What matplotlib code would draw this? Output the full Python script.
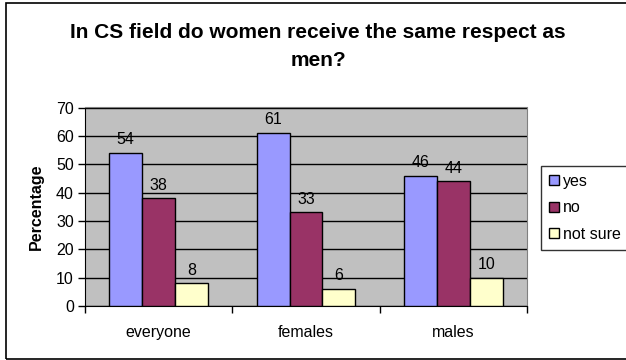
"""Grouped bar chart: respect for women in the CS field, by respondent group."""

import matplotlib.pyplot as plt
import numpy as np
from matplotlib.patches import Rectangle

plt.rcParams["font.family"] = ["Liberation Sans", "DejaVu Sans"]

groups = ["everyone", "females", "males"]
series = ["yes", "no", "not sure"]
yes = [54, 61, 46]
no = [38, 33, 44]
not_sure = [8, 6, 10]
colors = ["#9999FF", "#993366", "#FFFFCC"]

W, H = 626, 360
fig = plt.figure(figsize=(W / 100, H / 100), dpi=100)
ax = fig.add_axes([85 / W, 1 - 306 / H, (527 - 85) / W, (306 - 107.5) / H])
ax.set_facecolor("#C0C0C0")

x = np.arange(len(groups))
bw = 0.223
for i, (name, vals, c) in enumerate(zip(series, [yes, no, not_sure], colors)):
    pos = x + (i - 1) * bw
    bars = ax.bar(pos, vals, bw, color=c, edgecolor="black", linewidth=1.0,
                  label=name, zorder=3)
    for b, v in zip(bars, vals):
        ax.annotate(str(v), (b.get_x() + b.get_width() / 2, v),
                    xytext=(0, 4), textcoords="offset points",
                    ha="center", va="bottom", fontsize=11.5)

ax.set_xlim(-0.5, len(groups) - 0.5)
ax.set_ylim(0, 70)
ax.set_yticks(range(0, 71, 10))
ax.yaxis.grid(True, color="black", linewidth=1.0, zorder=1)
ax.set_axisbelow(True)

ax.set_xticks(x)
ax.set_xticklabels(groups, fontsize=11.5)
ax.tick_params(axis="x", which="major", length=0, pad=14)
ax.set_xticks(np.arange(-0.5, len(groups), 1.0), minor=True)
ax.tick_params(axis="x", which="minor", length=5, width=1, direction="out")
ax.tick_params(axis="y", length=5, width=1, direction="out", labelsize=11.5, pad=3)

for side in ("top", "right"):
    ax.spines[side].set_color("#808080")
for side in ("left", "bottom"):
    ax.spines[side].set_color("black")

ax.set_ylabel("Percentage", fontsize=11.5, fontweight="bold", labelpad=9)

fig.text(318 / W, 1 - 32 / H, "In CS field do women receive the same respect as",
         ha="center", va="center", fontsize=15, fontweight="bold")
fig.text(318 / W, 1 - 60 / H, "men?",
         ha="center", va="center", fontsize=15, fontweight="bold")

leg = fig.legend(loc="upper left", bbox_to_anchor=(541 / W, 1 - 166 / H),
                 fontsize=11.5, frameon=True, fancybox=False, handlelength=0.6,
                 handleheight=0.6, handletextpad=0.3, labelspacing=0.72,
                 borderpad=0.5, borderaxespad=0)
leg.get_frame().set_edgecolor("black")
leg.get_frame().set_linewidth(1.0)

fig.add_artist(Rectangle((6 / W, 1 - 359 / H), 1.2, (359 - 3) / H,
                         transform=fig.transFigure, fill=False,
                         edgecolor="black", linewidth=1.2))

fig.savefig("out.png", dpi=100)
